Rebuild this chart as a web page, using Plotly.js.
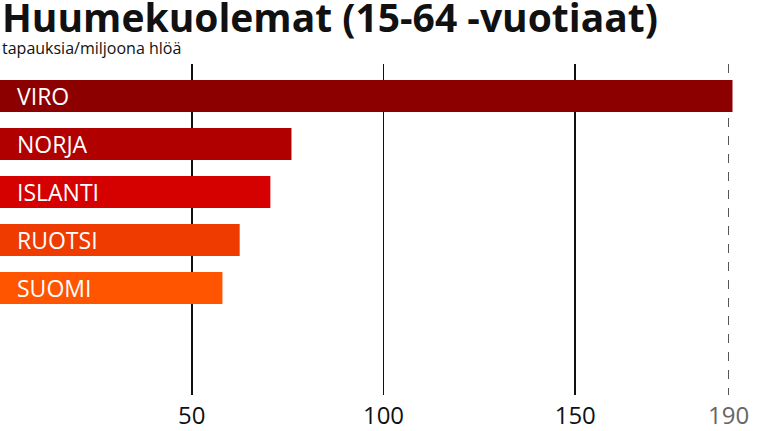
<!DOCTYPE html>
<html>
<head>
<meta charset="utf-8">
<script src="https://cdn.plot.ly/plotly-3.0.1.min.js"></script>
<style>html,body{margin:0;padding:0;background:#fff;}#chart{width:767px;height:431px;}</style>
</head>
<body>
<div id="chart"></div>
<script>
const countries = ["VIRO", "NORJA", "ISLANTI", "RUOTSI", "SUOMI"];
const values = [191, 76, 70.5, 62.5, 58];
const colors = ["#8c0000", "#b00000", "#d50000", "#ef3a00", "#ff5400"];
const mainTicks = [50, 100, 150];
const refTick = [190];

const pos = countries.map((c, i) => i);

const traces = [{
  type: "bar",
  orientation: "h",
  x: values,
  y: pos,
  width: 0.667,
  marker: {color: colors, line: {width: 0}},
  hoverinfo: "skip",
  showlegend: false
}];

const annotations = countries.map((c, i) => ({
  x: 0, y: i, xref: "x", yref: "y",
  text: c, showarrow: false, xanchor: "left", yanchor: "middle",
  xshift: 15,
  font: {family: "Open Sans", size: 23, color: "#ffffff"}
}));
annotations.push({
  xref: "paper", yref: "paper", x: 0, y: 1, yshift: 76, xanchor: "left", yanchor: "top",
  text: "<b>Huumekuolemat (15-64 -vuotiaat)</b>", showarrow: false,
  font: {family: "Open Sans", size: 39, color: "#111"}
});
annotations.push({
  xref: "paper", yref: "paper", x: 0, y: 1, yshift: 3, xanchor: "left", yanchor: "bottom",
  text: "tapauksia/miljoona hlöä", showarrow: false,
  font: {family: "Open Sans", size: 16, color: "#111"}
});

const layout = {
  width: 767, height: 431,
  margin: {l: 0, r: 0, t: 64, b: 36, pad: 0},
  paper_bgcolor: "#fff", plot_bgcolor: "#fff",
  xaxis: {
    range: [0, 200], tickvals: mainTicks, ticks: "", showline: false, zeroline: false,
    showgrid: true, gridcolor: "#111", gridwidth: 1.6,
    tickfont: {family: "Open Sans", size: 24, color: "#111"},
    ticklabelstandoff: 4, fixedrange: true
  },
  xaxis2: {
    overlaying: "x", side: "bottom", range: [0, 200], tickvals: refTick, ticks: "",
    showline: false, zeroline: false, showgrid: true, gridcolor: "#555", gridwidth: 1.2, griddash: "dash",
    tickfont: {family: "Open Sans", size: 24, color: "#666"}, ticklabelstandoff: 4
  },
  yaxis: {
    range: [6.23, -0.667], showticklabels: false, showgrid: false, zeroline: false, ticks: "", fixedrange: true
  },
  bargap: 0.333,
  annotations: annotations
};

traces.push({type: "scatter", x: [190], y: [0], xaxis: "x2", mode: "markers", marker: {opacity: 0}, hoverinfo: "skip", showlegend: false});

Plotly.newPlot("chart", traces, layout, {displayModeBar: false, staticPlot: true});
</script>
</body>
</html>
